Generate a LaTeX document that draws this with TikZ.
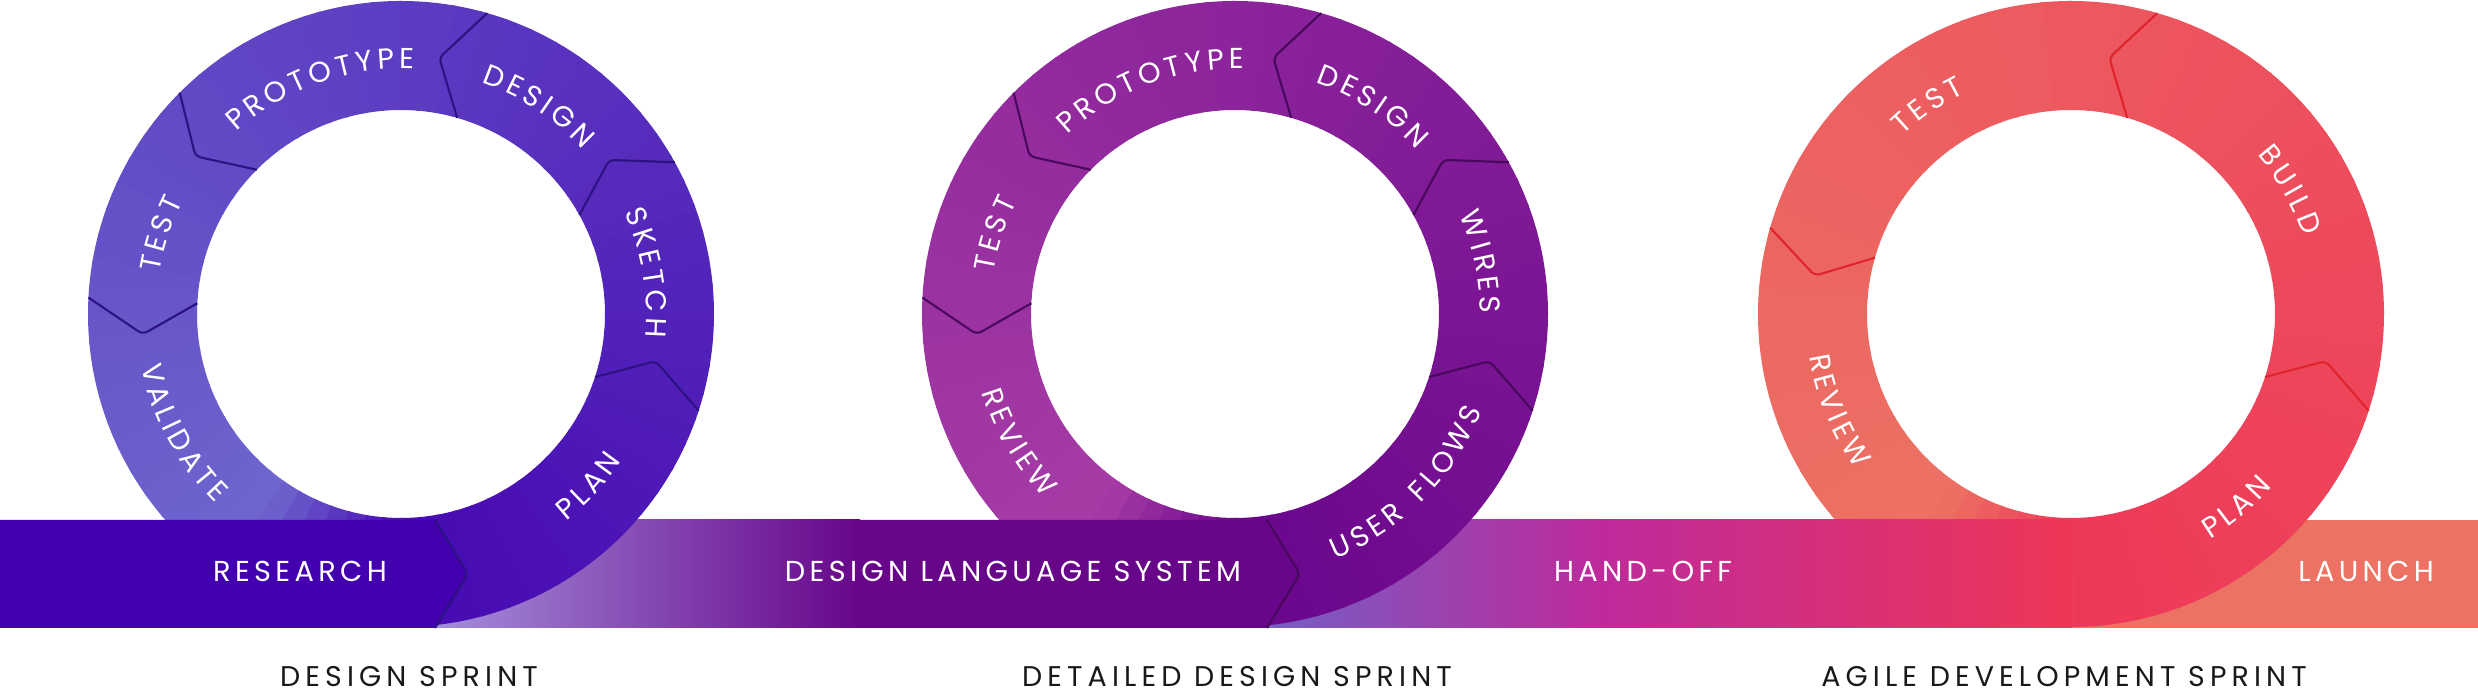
\documentclass[tikz,border=0pt]{standalone}
\usepackage{fontspec}
\setmainfont{Poppins}
\newfontfamily\lblfont[LetterSpace=15]{Poppins}
\newfontfamily\sprintfamily[LetterSpace=18]{Poppins}
\usetikzlibrary{decorations.text,positioning}

\definecolor{researchc}{HTML}{4200AE}
\definecolor{ringAdark}{HTML}{4708B2}
\definecolor{ringAlight}{HTML}{6E66CE}
\definecolor{ringAline}{HTML}{2C1282}
\definecolor{dlsl}{HTML}{A898E2}
\definecolor{dlsc}{HTML}{68068A}
\definecolor{ringBdark}{HTML}{6A068C}
\definecolor{ringBlight}{HTML}{A63CA6}
\definecolor{ringBline}{HTML}{48085E}
\definecolor{handl}{HTML}{6E62C8}
\definecolor{handm}{HTML}{BE2A9C}
\definecolor{handr}{HTML}{EE3656}
\definecolor{ringCdark}{HTML}{EE3858}
\definecolor{ringClight}{HTML}{EC7264}
\definecolor{ringCline}{HTML}{E0242E}
\definecolor{launchc}{HTML}{EC7264}

\newcommand{\lbl}{\lblfont\fontsize{8.2}{10}\selectfont}
\newcommand{\sprintfont}{\sprintfamily\fontsize{8.1}{10}\selectfont}

\newcommand{\cyclering}[3]{
\begin{scope}[shift={(#1)}]
\foreach \k in {0,...,71}{
  \pgfmathsetmacro{\angA}{-90+5*\k}
  \pgfmathsetmacro{\pct}{min(100*(\k+0.5)/65,100*(71.5-\k)/7)}
  \fill[#3!\pct!#2] (\angA:313) arc[start angle=\angA,delta angle=5.6,radius=313]
    -- ({\angA+5.6}:204) arc[start angle={\angA+5.6},delta angle=-5.6,radius=204] -- cycle;
}
\end{scope}}
\newcommand{\arcout}[2]{\path[arctext={#2}] ({#1+45}:245) arc[start angle={#1+45},end angle={#1-45},radius=245];}
\newcommand{\arcin}[2]{\path[arctext={#2}] ({#1-45}:265) arc[start angle={#1-45},end angle={#1+45},radius=265];}

\begin{document}
\begin{tikzpicture}[x=0.01cm,y=0.01cm,
  divider/.style={line width=0.6pt,line join=round,rounded corners=1.5pt,draw=#1},
  arctext/.style={decorate,decoration={text along path,text align=center,text color=white,text={|\lbl\kern1.2pt|#1}}},
  bandlabel/.style={text=white,font=\lbl,anchor=base,inner sep=0pt},
  sprint/.style={text=black!90,font=\sprintfont,anchor=base,inner sep=0pt}]

\fill[white] (0,0) rectangle (2478,692);
\coordinate (ring1) at (401,378);
\coordinate (ring2) at (1235,378);
\coordinate (ring3) at (2071,378);

\fill[launchc] (2071,64) rectangle (2478,172);
\cyclering{ring3}{ringCdark}{ringClight}
\shade[left color=handm,right color=handr] (1598,64) rectangle (2072,172);
\shade[left color=handl,right color=handm] (1235,64) rectangle (1600,172);
\cyclering{ring2}{ringBdark}{ringBlight}
\fill[dlsc] (840,64) -- (840,172) -- (1267,172) -- (1300,118) -- (1267,64) -- cycle;
\shade[left color=dlsl,right color=dlsc] (401,64) rectangle (860,172);
\cyclering{ring1}{ringAdark}{ringAlight}
\fill[researchc] (0,64) -- (0,172) -- (435,172) -- (468,118) -- (435,64) -- cycle;

\draw[divider=ringAline] (435,172) -- (468,118) -- (435,64);
\draw[divider=ringBline] (1267,172) -- (1300,118) -- (1267,64);

\begin{scope}[shift={(ring1)}]
\foreach \ang in {-18,29,74,135,177}
  \draw[divider=ringAline] (\ang:313) -- ({\ang+7.5}:259) -- (\ang:204);
\arcout{110}{PROTOTYPE}
\arcout{57}{DESIGN}
\arcout{10}{SKETCH}
\arcin{-43}{PLAN}
\arcout{162}{TEST}
\arcin{208}{VALIDATE}
\end{scope}

\begin{scope}[shift={(ring2)}]
\foreach \ang in {-18,29,74,135,177}
  \draw[divider=ringBline] (\ang:313) -- ({\ang+7.5}:259) -- (\ang:204);
\arcout{111}{PROTOTYPE}
\arcout{57}{DESIGN}
\arcout{12.5}{WIRES}
\arcin{-45}{USER FLOWS}
\arcout{162}{TEST}
\arcin{210}{REVIEW}
\end{scope}

\begin{scope}[shift={(ring3)}]
\foreach \ang in {-18,74,164}
  \draw[divider=ringCline] (\ang:313) -- ({\ang+7.5}:259) -- (\ang:204);
\arcout{125}{TEST}
\arcout{30}{BUILD}
\arcin{202}{REVIEW}
\arcin{-50}{PLAN}
\end{scope}

\node[bandlabel] (research) at (300,110) {RESEARCH};
\node[bandlabel] (dls) at (1013,110) {DESIGN LANGUAGE SYSTEM};
\node[bandlabel] (handoff) at (1643,110) {HAND-OFF};
\node[bandlabel] (launch) at (2366,110) {LAUNCH};

\node[sprint] (sprint1) at (409,5) {DESIGN SPRINT};
\node[sprint] (sprint2) at (1237,5) {DETAILED DESIGN SPRINT};
\node[sprint] (sprint3) at (2064,5) {AGILE DEVELOPMENT SPRINT};

\end{tikzpicture}
\end{document}
